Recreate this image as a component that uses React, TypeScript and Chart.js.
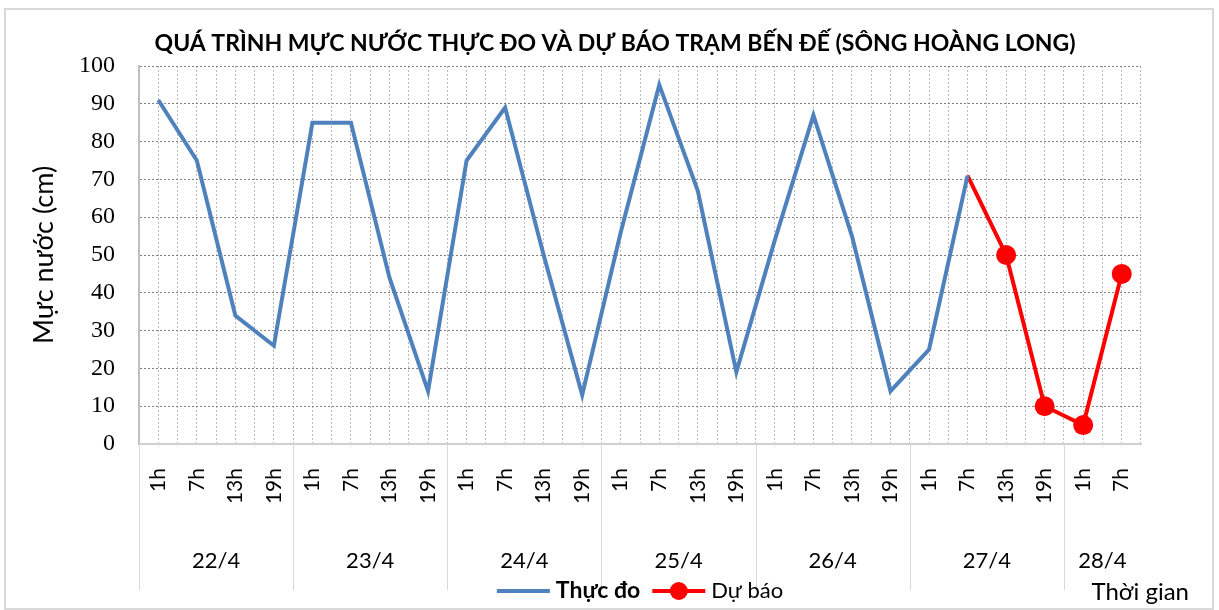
import React, { useEffect, useRef } from 'react';
import { Chart, registerables } from 'chart.js';

Chart.register(...registerables);

const titleText = 'QUÁ TRÌNH MỰC NƯỚC THỰC ĐO VÀ DỰ BÁO TRẠM BẾN ĐẾ (SÔNG HOÀNG LONG)';
const yTitle = 'Mực nước (cm)';
const xTitle = 'Thời gian';

const hourLabels = [
  '1h', '7h', '13h', '19h',
  '1h', '7h', '13h', '19h',
  '1h', '7h', '13h', '19h',
  '1h', '7h', '13h', '19h',
  '1h', '7h', '13h', '19h',
  '1h', '7h', '13h', '19h',
  '1h', '7h',
];
const dayLabels = ['22/4', '23/4', '24/4', '25/4', '26/4', '27/4', '28/4'];
const daySpans = [4, 4, 4, 4, 4, 4, 2];

const measuredLabel = 'Thực đo';
const forecastLabel = 'Dự báo';
const measured = [
  91, 75, 34, 26,
  85, 85, 44, 14,
  75, 89, 50, 13,
  56, 95, 67, 19,
  54, 87, 55, 14,
  25, 71, null, null,
  null, null,
];
const forecast = [
  null, null, null, null,
  null, null, null, null,
  null, null, null, null,
  null, null, null, null,
  null, null, null, null,
  null, 71, 50, 10,
  5, 45,
];
const yTicks = { min: 0, max: 100, step: 10 };

const BLUE = '#4F81BD';
const RED = '#FF0000';
const firstForecast = forecast.findIndex((v) => v !== null);

const decorPlugin = {
  id: 'decor',
  beforeDraw(chart: any) {
    const { ctx, width, height } = chart;
    ctx.save();
    ctx.fillStyle = '#ffffff';
    ctx.fillRect(0, 0, width, height);
    ctx.strokeStyle = '#d9d9d9';
    ctx.lineWidth = 2;
    ctx.strokeRect(5, 9, 1208, 600);
    ctx.restore();
  },
  afterDraw(chart: any) {
    const { ctx, chartArea } = chart;
    const x = chart.scales.x;
    ctx.save();
    // title
    ctx.fillStyle = '#000';
    ctx.font = 'bold 23px Lato';
    ctx.textAlign = 'center';
    ctx.textBaseline = 'middle';
    ctx.fillText(titleText, 615, 44);

    // y title
    ctx.save();
    ctx.translate(44, (chartArea.top + chartArea.bottom) / 2);
    ctx.rotate(-Math.PI / 2);
    ctx.font = '27px Lato';
    ctx.fillText(yTitle, 0, 0);
    ctx.restore();

    // day separators & labels
    const half = (x.getPixelForValue(1) - x.getPixelForValue(0)) / 2;
    let idx = 0;
    ctx.strokeStyle = '#d9d9d9';
    ctx.lineWidth = 1;
    ctx.font = '22px Lato';
    daySpans.forEach((span, d) => {
      const left = x.getPixelForValue(idx) - half;
      const right = x.getPixelForValue(idx + span - 1) + half;
      ctx.beginPath();
      ctx.moveTo(Math.round(left) + 0.5, chartArea.bottom);
      ctx.lineTo(Math.round(left) + 0.5, 590);
      ctx.stroke();
      ctx.fillText(dayLabels[d], (left + right) / 2, 561);
      idx += span;
    });

    // legend
    const legY = 591;
    const f1 = 'bold 23px Lato';
    const f2 = '22px Lato';
    ctx.font = f1;
    const w1 = ctx.measureText(measuredLabel).width;
    ctx.font = f2;
    const w2 = ctx.measureText(forecastLabel).width;
    const sample = 53;
    const gap = 6;
    const between = 12;
    const total = sample + gap + w1 + between + sample + gap + w2;
    let lx = (chartArea.left + chartArea.right) / 2 - total / 2;
    ctx.lineWidth = 4;
    ctx.strokeStyle = BLUE;
    ctx.beginPath();
    ctx.moveTo(lx, legY);
    ctx.lineTo(lx + sample, legY);
    ctx.stroke();
    lx += sample + gap;
    ctx.textAlign = 'left';
    ctx.font = f1;
    ctx.fillText(measuredLabel, lx, legY);
    lx += w1 + between;
    ctx.strokeStyle = RED;
    ctx.beginPath();
    ctx.moveTo(lx, legY);
    ctx.lineTo(lx + sample, legY);
    ctx.stroke();
    ctx.fillStyle = RED;
    ctx.beginPath();
    ctx.arc(lx + sample / 2, legY, 9, 0, Math.PI * 2);
    ctx.fill();
    lx += sample + gap;
    ctx.fillStyle = '#000';
    ctx.font = f2;
    ctx.fillText(forecastLabel, lx, legY);

    // x title
    ctx.textAlign = 'right';
    ctx.font = '24px Lato';
    ctx.fillText(xTitle, 1189, 592);
    ctx.restore();
  },
};

export default function App() {
  const ref = useRef<HTMLCanvasElement | null>(null);
  useEffect(() => {
    document.body.style.margin = '0';
    if (!ref.current) return;
    const chart = new Chart(ref.current, {
      type: 'line',
      data: {
        labels: hourLabels,
        datasets: [
          {
            label: measuredLabel,
            data: measured,
            borderColor: BLUE,
            backgroundColor: BLUE,
            borderWidth: 4,
            pointRadius: 0,
            pointHoverRadius: 0,
            tension: 0,
            spanGaps: false,
            xAxisID: 'x',
          },
          {
            label: forecastLabel,
            data: forecast,
            borderColor: RED,
            backgroundColor: RED,
            borderWidth: 4,
            pointRadius: (c: any) => (c.dataIndex === firstForecast ? 0 : 10),
            pointBorderWidth: 0,
            pointBackgroundColor: RED,
            tension: 0,
            xAxisID: 'x',
          },
        ],
      },
      options: {
        responsive: false,
        animation: false,
        devicePixelRatio: 1,
        layout: { padding: { left: 0, top: 66, right: 78, bottom: 0 } },
        plugins: {
          legend: { display: false },
          title: { display: false },
          tooltip: { enabled: false },
        },
        scales: {
          x: {
            type: 'category',
            position: 'bottom',
            offset: true,
            grid: {
              offset: true,
              color: '#b8b8b8',
              lineWidth: 1,
              drawTicks: false,
            },
            border: { display: true, color: '#d0d0d0', width: 2, dash: [2, 2] },
            ticks: {
              autoSkip: false,
              minRotation: 90,
              maxRotation: 90,
              padding: 24,
              color: '#000',
              font: { family: 'Lato', size: 21 },
            },
            afterFit: (s: any) => {
              s.height = 610 - 444;
            },
          },
          x2: {
            type: 'category',
            position: 'top',
            labels: hourLabels,
            offset: true,
            grid: { offset: false, color: '#b8b8b8', lineWidth: 1, drawTicks: false },
            border: { display: false, dash: [2, 2] },
            ticks: { display: false },
            afterFit: (s: any) => {
              s.height = 0;
            },
          },
          y: {
            type: 'linear',
            min: yTicks.min,
            max: yTicks.max,
            ticks: {
              stepSize: yTicks.step,
              padding: 24,
              color: '#000',
              font: { family: 'Liberation Serif', size: 24 },
            },
            grid: { color: '#7f7f7f', lineWidth: 1, drawTicks: false },
            border: { display: true, color: '#bfbfbf', width: 2, dash: [2, 2] },
            afterFit: (s: any) => {
              s.width = 139;
            },
          },
        },
      },
      plugins: [decorPlugin],
    });
    return () => chart.destroy();
  }, []);
  return <canvas ref={ref} width={1219} height={610} style={{ display: 'block' }} />;
}
